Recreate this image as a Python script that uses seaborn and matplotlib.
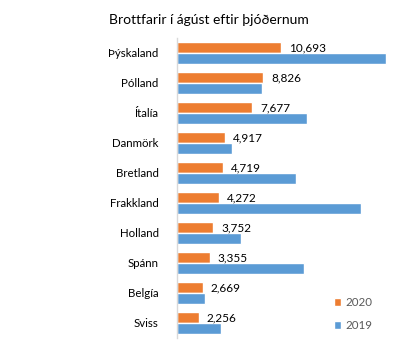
import matplotlib
matplotlib.use("Agg")
import matplotlib.pyplot as plt
import seaborn as sns
import pandas as pd

countries = ["Þýskaland", "Pólland", "Ítalía", "Danmörk", "Bretland",
             "Frakkland", "Holland", "Spánn", "Belgía", "Sviss"]
values_2020 = [10693, 8826, 7677, 4917, 4719, 4272, 3752, 3355, 2669, 2256]
values_2019 = [21320, 8690, 13250, 5690, 12140, 18840, 6550, 12970, 2900, 4550]
years = ["2020", "2019"]
title = "Brottfarir í ágúst eftir þjóðernum"

df = pd.DataFrame({
    "land": countries * 2,
    "fjoldi": values_2020 + values_2019,
    "ar": [years[0]] * len(countries) + [years[1]] * len(countries),
})

sns.set_theme(style="white")
plt.rcParams["font.family"] = ["Lato", "DejaVu Sans"]

fig = plt.figure(figsize=(4.2, 3.54), dpi=100)
ax = fig.add_axes([0.4207, 0.0452, 0.56, 0.8475])

sns.barplot(data=df, y="land", x="fjoldi", hue="ar", order=countries,
            hue_order=years, palette={"2020": "#ED7D31", "2019": "#5B9BD5"},
            orient="h", width=0.733, ax=ax, saturation=1, errorbar=None)

ax.set_xlim(0, 24000)
ax.set_ylim(9.5, -0.5)
ax.set_xlabel("")
ax.set_ylabel("")
ax.set_xticks([])
for s in ["top", "right", "bottom"]:
    ax.spines[s].set_visible(False)
ax.spines["left"].set_color("#D9D9D9")
ax.spines["left"].set_linewidth(1.0)
ax.tick_params(axis="y", length=0, pad=13, labelsize=8.3, labelcolor="#000000")

ax.bar_label(ax.containers[0], labels=[f"{v:,}" for v in values_2020],
             padding=5.8, fontsize=8.5, color="#000000")

ax.legend(loc="upper left", bbox_to_anchor=(0.77, 0.19),
          bbox_transform=fig.transFigure, frameon=False, fontsize=8.3,
          handlelength=0.65, handleheight=0.65, handletextpad=0.4,
          labelspacing=1.05, labelcolor="#595959")

fig.text(0.497, 0.943, title, ha="center", va="center", fontsize=10,
         color="#000000")

fig.savefig("out.png", dpi=100, facecolor="white")
